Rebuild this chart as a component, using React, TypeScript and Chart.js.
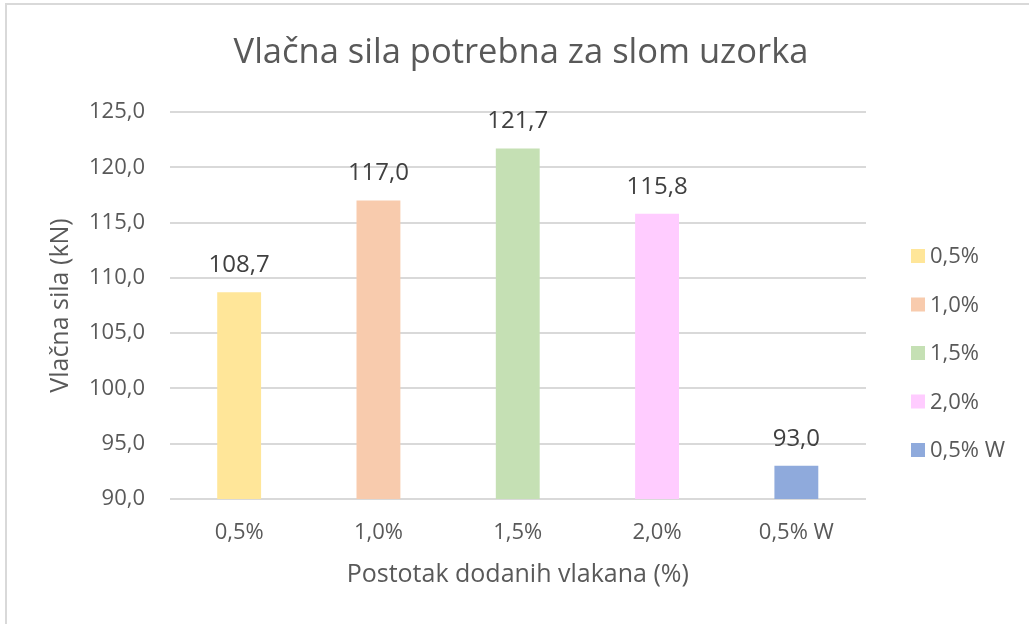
import React, { useEffect, useRef } from "react";
import { Chart, registerables } from "chart.js";

Chart.register(...registerables);

const categories = ["0,5%", "1,0%", "1,5%", "2,0%", "0,5% W"];
const values = [108.7, 117.0, 121.7, 115.8, 93.0];
const barColors = ["#FFE699", "#F8CBAD", "#C5E0B4", "#FFCCFF", "#8FAADC"];
const yTicks = [90, 95, 100, 105, 110, 115, 120, 125];

const chartTitle = "Vlačna sila potrebna za slom uzorka";
const yTitle = "Vlačna sila (kN)";
const xTitle = "Postotak dodanih vlakana (%)";

const FONT = "'Open Sans', 'Noto Sans', sans-serif";
const TEXT = "#595959";

const fmt = (v: number) => v.toFixed(1).replace(".", ",");

const valueLabels = {
  id: "valueLabels",
  afterDatasetsDraw(chart: any) {
    const { ctx } = chart;
    const meta = chart.getDatasetMeta(0);
    ctx.save();
    ctx.font = `24px ${FONT}`;
    ctx.fillStyle = "#404040";
    ctx.textAlign = "center";
    ctx.textBaseline = "middle";
    meta.data.forEach((bar: any, i: number) => {
      ctx.fillText(fmt(values[i]), bar.x, bar.y - 27);
    });
    ctx.restore();
  },
};

const titleAndLegend = {
  id: "titleAndLegend",
  afterDraw(chart: any) {
    const { ctx } = chart;
    ctx.save();
    ctx.font = `34.5px ${FONT}`;
    ctx.fillStyle = TEXT;
    ctx.textAlign = "center";
    ctx.textBaseline = "middle";
    ctx.fillText(chartTitle, 514, 48);

    ctx.font = `22px ${FONT}`;
    ctx.textAlign = "left";
    const x0 = 904;
    const y0 = 251;
    const step = 48.5;
    categories.forEach((c, i) => {
      const y = y0 + i * step;
      ctx.fillStyle = barColors[i];
      ctx.fillRect(x0, y - 7, 14, 14);
      ctx.fillStyle = TEXT;
      ctx.fillText(c, x0 + 19, y + 1);
    });
    ctx.restore();
  },
};

export default function App() {
  const ref = useRef<HTMLCanvasElement>(null);
  useEffect(() => {
    if (!ref.current) return;
    const chart = new Chart(ref.current, {
      type: "bar",
      data: {
        labels: categories,
        datasets: [
          {
            data: values,
            backgroundColor: barColors,
            borderWidth: 0,
            barPercentage: 0.315,
            categoryPercentage: 1,
          },
        ],
      },
      options: {
        responsive: false,
        animation: false,
        layout: { padding: { top: 107, left: 0, right: 163, bottom: 25 } },
        plugins: {
          legend: { display: false },
          tooltip: { enabled: false },
          title: { display: false },
        },
        scales: {
          x: {
            grid: { display: false, drawTicks: false },
            border: { display: false },
            ticks: {
              color: TEXT,
              font: { family: FONT, size: 22 },
              padding: 21,
            },
            title: {
              display: true,
              text: xTitle,
              color: TEXT,
              font: { family: FONT, size: 25 },
              padding: { top: 10, bottom: 9 },
            },
            afterFit(scale: any) {
              scale.height = 100;
            },
          },
          y: {
            min: 90,
            max: 125,
            afterBuildTicks(scale: any) {
              scale.ticks = yTicks.map((v) => ({ value: v }));
            },
            grid: { color: "#D9D9D9", lineWidth: 2, drawTicks: false },
            border: { display: false },
            ticks: {
              color: TEXT,
              font: { family: FONT, size: 22 },
              padding: 24.5,
              callback: (v: any) => fmt(Number(v)),
            },
            title: {
              display: true,
              text: yTitle,
              color: TEXT,
              font: { family: FONT, size: 25 },
              padding: { top: 39, bottom: 0 },
            },
            afterFit(scale: any) {
              scale.width = 162.5;
            },
          },
        },
      },
      plugins: [valueLabels, titleAndLegend],
    });
    return () => chart.destroy();
  }, []);

  return (
    <div
      style={{
        position: "fixed",
        left: 0,
        top: 0,
        width: 1029,
        height: 624,
        overflow: "hidden",
        background: "#fff",
      }}
    >
      <div
        style={{
          position: "absolute",
          left: 5,
          top: 3,
          width: 1100,
          height: 700,
          border: "2px solid #D9D9D9",
          background: "#fff",
        }}
      >
        <canvas ref={ref} width={1022} height={619} style={{ display: "block" }} />
      </div>
    </div>
  );
}
